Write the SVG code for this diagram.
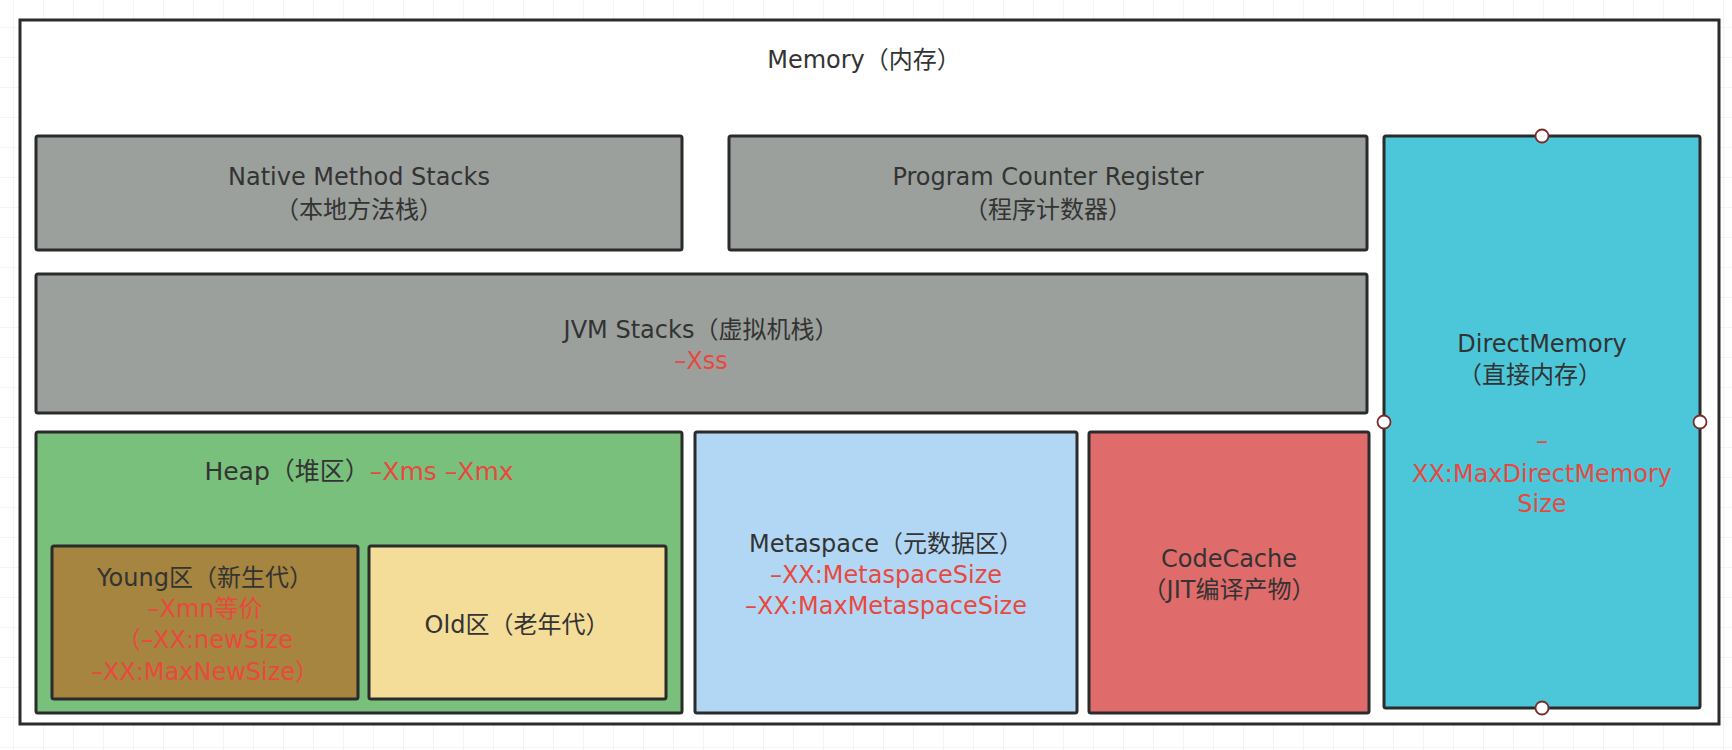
<svg xmlns="http://www.w3.org/2000/svg" width="1732" height="750" viewBox="0 0 1732 750">
  <defs>
    <pattern id="grid" x="13" y="27" width="30" height="30" patternUnits="userSpaceOnUse">
      <path d="M0 0 H30 M0 0 V30" fill="none" stroke="#e9e9e9" stroke-width="1"/>
    </pattern>
    <style>
      .box { stroke: #2b2b2b; stroke-width: 3; }
      .t { font-family: "DejaVu Sans", "Noto Sans CJK SC", sans-serif; font-size: 24px; fill: #333333; text-anchor: middle; }
      .r { fill: #e8493f; }
      .handle { fill: #ffffff; stroke: #7a2a2a; stroke-width: 1.8; }
    </style>
  </defs>

  <rect x="0" y="0" width="1732" height="750" fill="#ffffff"/>
  <rect x="0" y="0" width="1732" height="750" fill="url(#grid)"/>

  <g id="memory">
    <rect class="box" x="20" y="20" width="1699" height="704" fill="#ffffff"/>
    <text class="t" x="864" y="68">Memory（内存）</text>
  </g>

  <g id="native-method-stacks">
    <rect class="box" x="36" y="136" width="646" height="114" rx="2" fill="#9ba09c"/>
    <text class="t" x="359" y="185">Native Method Stacks</text>
    <text class="t" x="359" y="218">（本地方法栈）</text>
  </g>

  <g id="program-counter-register">
    <rect class="box" x="729" y="136" width="638" height="114" rx="2" fill="#9ba09c"/>
    <text class="t" x="1048" y="185">Program Counter Register</text>
    <text class="t" x="1048" y="218">（程序计数器）</text>
  </g>

  <g id="jvm-stacks">
    <rect class="box" x="36" y="274" width="1331" height="139" rx="2" fill="#9ba09c"/>
    <text class="t" x="701" y="338">JVM Stacks（虚拟机栈）</text>
    <text class="t r" x="701" y="369">–Xss</text>
  </g>

  <g id="heap">
    <rect class="box" x="36" y="432" width="646" height="281" rx="2" fill="#79c07d"/>
    <text class="t" x="359" y="480" style="font-size:25px">Heap（堆区）<tspan class="r">–Xms –Xmx</tspan></text>
  </g>

  <g id="young">
    <rect class="box" x="52" y="546" width="306" height="153" rx="2" fill="#a5853f"/>
    <text class="t" x="205" y="586">Young区（新生代）</text>
    <text class="t r" x="205" y="617">–Xmn等价</text>
    <text class="t r" x="205" y="648">（–XX:newSize</text>
    <text class="t r" x="205" y="680">–XX:MaxNewSize）</text>
  </g>

  <g id="old">
    <rect class="box" x="369" y="546" width="297" height="153" rx="2" fill="#f4dd99"/>
    <text class="t" x="517" y="633">Old区（老年代）</text>
  </g>

  <g id="metaspace">
    <rect class="box" x="695" y="432" width="382" height="281" rx="2" fill="#b2d7f5"/>
    <text class="t" x="886" y="552">Metaspace（元数据区）</text>
    <text class="t r" x="886" y="583">–XX:MetaspaceSize</text>
    <text class="t r" x="886" y="614">–XX:MaxMetaspaceSize</text>
  </g>

  <g id="codecache">
    <rect class="box" x="1089" y="432" width="280" height="281" rx="2" fill="#e06b6b"/>
    <text class="t" x="1229" y="567">CodeCache</text>
    <text class="t" x="1229" y="598">（JIT编译产物）</text>
  </g>

  <g id="direct-memory">
    <rect class="box" x="1384" y="136" width="316" height="572" rx="2" fill="#4cc7da"/>
    <text class="t" x="1542" y="352">DirectMemory</text>
    <text class="t" x="1530" y="383">（直接内存）</text>
    <text class="t r" x="1542" y="449">–</text>
    <text class="t r" x="1542" y="482">XX:MaxDirectMemory</text>
    <text class="t r" x="1542" y="512">Size</text>
    <circle class="handle" cx="1542" cy="136" r="6.5"/>
    <circle class="handle" cx="1542" cy="708" r="6.5"/>
    <circle class="handle" cx="1384" cy="422" r="6.5"/>
    <circle class="handle" cx="1700" cy="422" r="6.5"/>
  </g>

  <g id="connectors"/>
</svg>
